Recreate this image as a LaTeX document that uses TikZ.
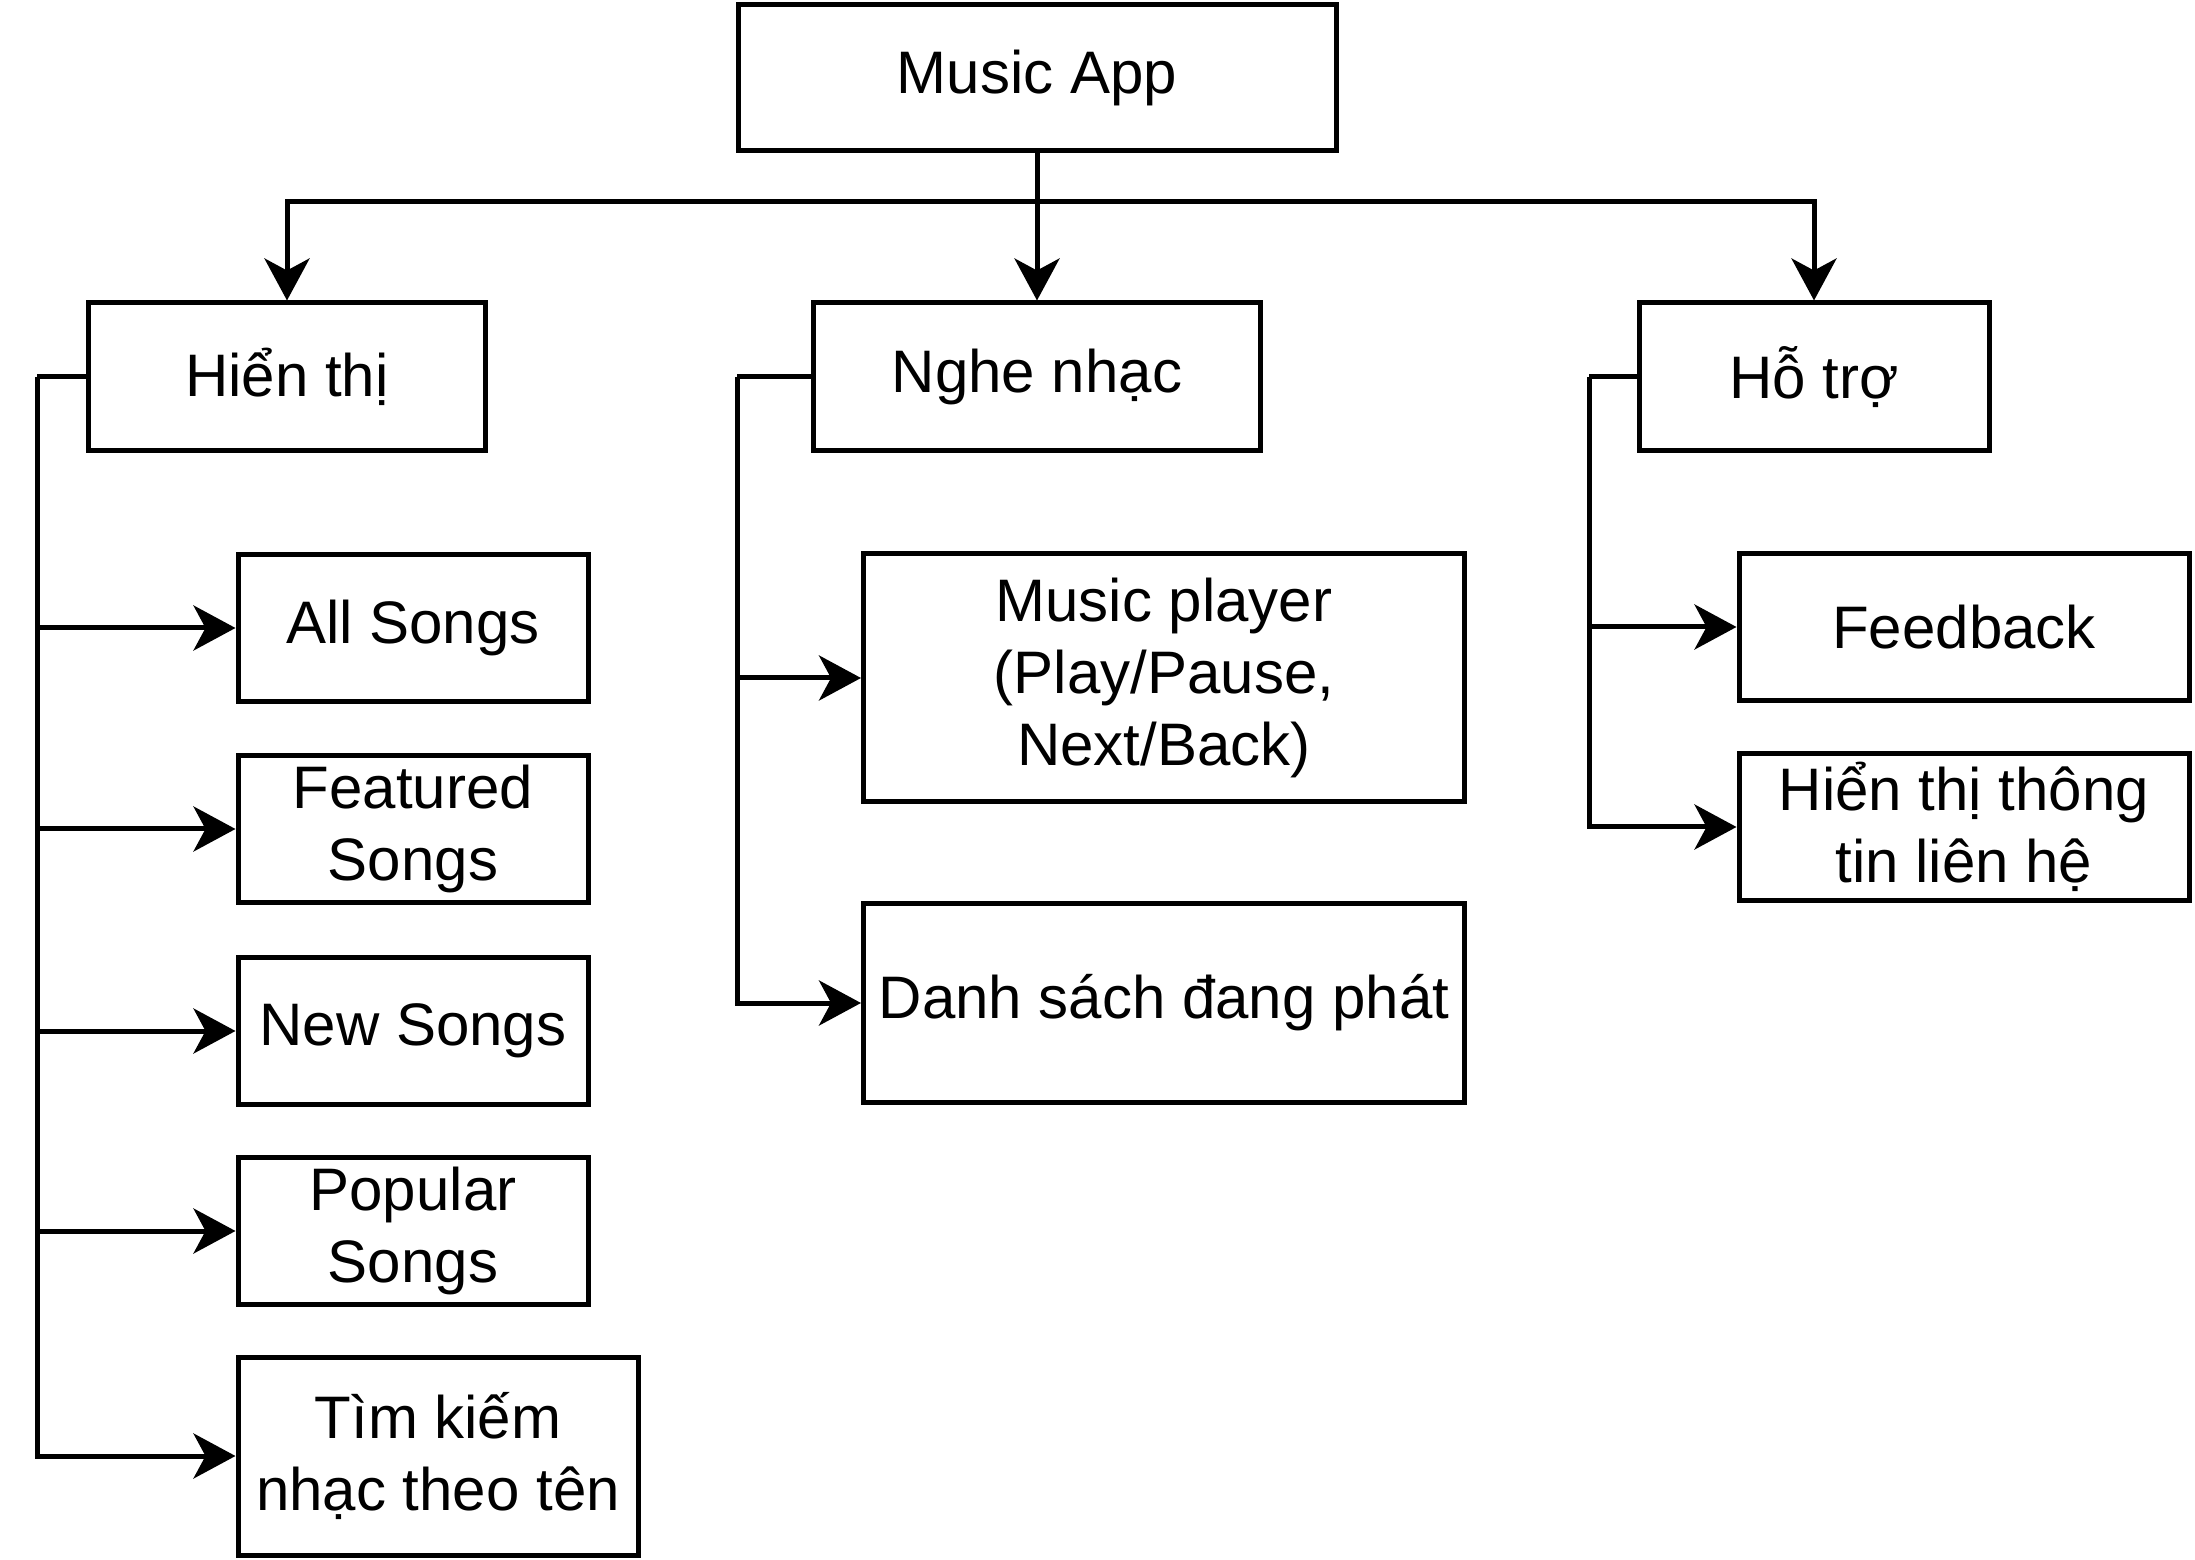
\documentclass[tikz,border=0pt]{standalone}
\usepackage{fontspec}
\setmainfont{Liberation Sans}
\usetikzlibrary{arrows.meta}
\begin{document}
\begin{tikzpicture}[x=0.25pt,y=-0.25pt,
  box/.style={draw=black,line width=1.25pt,rectangle,align=center,inner sep=1pt,
    font=\fontsize{15}{18}\selectfont},
  conn/.style={line width=1.25pt},
  arr/.style={conn,-{Stealth[length=10.5pt,width=11.25pt,inset=3pt]}}]
\fill[white] (0,0) rectangle (2195,1560);
\useasboundingbox (0,0) rectangle (2195,1560);
% top level
\node[box,minimum width=149.5pt,minimum height=36.5pt] (app) at (1037,78) {Music App};
\node[box,minimum width=99.25pt,minimum height=37pt] (hien) at (287,377) {Hiển thị};
\node[box,minimum width=111.75pt,minimum height=37pt] (nghe) at (1037,377) {Nghe nhạc};
\node[box,minimum width=87.5pt,minimum height=37pt] (hotro) at (1814,377) {Hỗ trợ};
% left column
\node[box,minimum width=87.5pt,minimum height=36.75pt] (all) at (413,628) {All Songs};
\node[box,minimum width=87.5pt,minimum height=36.75pt] (feat) at (413,829) {Featured\\Songs};
\node[box,minimum width=87.5pt,minimum height=36.75pt] (new) at (413,1031) {New Songs};
\node[box,minimum width=87.5pt,minimum height=36.75pt] (pop) at (413,1231) {Popular\\Songs};
\node[box,minimum width=100pt,minimum height=49.5pt] (tim) at (438,1456) {Tìm kiếm\\nhạc theo tên};
% middle column
\node[box,minimum width=150.25pt,minimum height=62pt] (player) at (1164,678) {Music player\\(Play/Pause,\\Next/Back)};
\node[box,minimum width=150.25pt,minimum height=49.5pt] (list) at (1164,1003) {Danh sách đang phát};
% right column
\node[box,minimum width=112.5pt,minimum height=36.75pt] (fb) at (1964,627) {Feedback};
\node[box,minimum width=112.5pt,minimum height=36.75pt] (info) at (1964,827) {Hiển thị thông\\tin liên hệ};
% bus
\coordinate (bus) at (1037,202);
\draw[conn] (app.south) -- (bus);
\draw[arr] (bus) -- (nghe.north);
\draw[arr] (bus) -| (hien.north);
\draw[arr] (bus) -| (hotro.north);
% left trunk
\coordinate (tl) at (37,377);
\draw[conn] (hien.west) -- (tl);
\draw[arr] (tl) |- (all.west);
\draw[arr] (tl) |- (feat.west);
\draw[arr] (tl) |- (new.west);
\draw[arr] (tl) |- (pop.west);
\draw[arr] (tl) |- (tim.west);
% middle trunk
\coordinate (tm) at (737,377);
\draw[conn] (nghe.west) -- (tm);
\draw[arr] (tm) |- (player.west);
\draw[arr] (tm) |- (list.west);
% right trunk
\coordinate (tr) at (1589,377);
\draw[conn] (hotro.west) -- (tr);
\draw[arr] (tr) |- (fb.west);
\draw[arr] (tr) |- (info.west);
\end{tikzpicture}
\end{document}
